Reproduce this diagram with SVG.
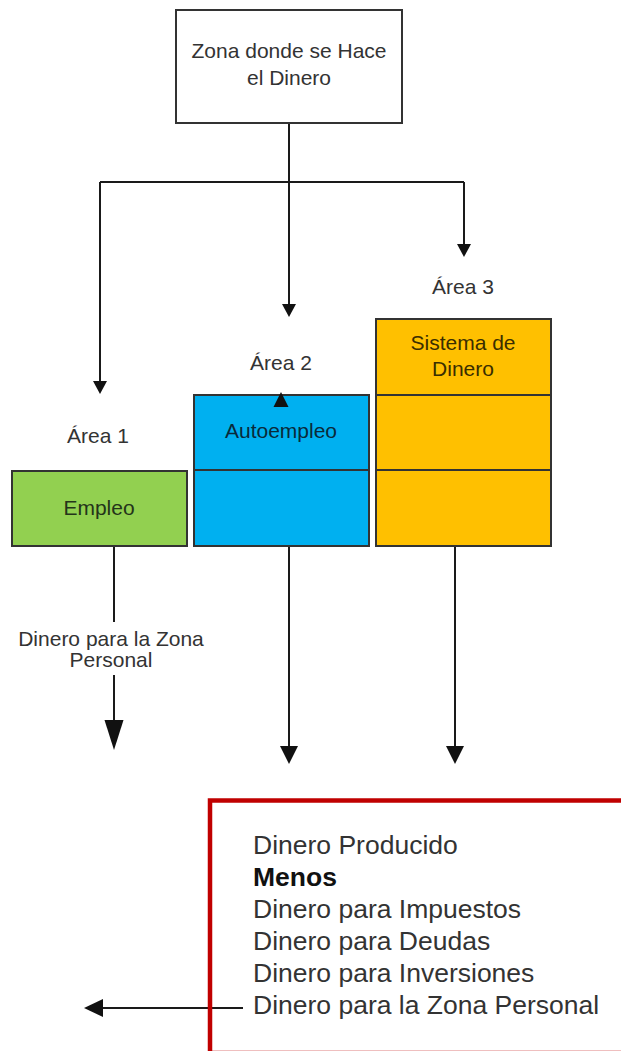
<svg xmlns="http://www.w3.org/2000/svg" width="621" height="1051" viewBox="0 0 621 1051">
<style>
text{font-family:"Liberation Sans",Arial,sans-serif;fill:#333;}
.t21{font-size:21px;text-anchor:middle;}
.box{stroke:#333;stroke-width:2;}
.ln{stroke:#1a1a1a;stroke-width:2;fill:none;}
.ah{fill:#111;stroke:none;}
.big{font-size:26.5px;}
</style>
<rect width="621" height="1051" fill="#fff"/>
<g id="connectors">
<path class="ln" d="M289 123V182M100 182H464M100 182V382M289 182V305M464 182V245"/>
<polygon class="ah" points="93,381 107,381 100,394"/>
<polygon class="ah" points="282,304 296,304 289,317"/>
<polygon class="ah" points="457,244 471,244 464,257"/>
<path class="ln" d="M114 546V622M114 675V722M289 546V748M455 546V748M243 1008H100"/>
<polygon class="ah" points="104.5,720 123.5,720 114,750"/>
<polygon class="ah" points="280,746 298,746 289,764"/>
<polygon class="ah" points="446,746 464,746 455,764"/>
<polygon class="ah" points="103,999 103,1017 84,1008"/>
</g>
<g id="node-top">
<rect class="box" x="176" y="10" width="226" height="113" fill="#fff"/>
<text class="t21" x="289" y="58">Zona donde se Hace</text>
<text class="t21" x="289" y="85">el Dinero</text>
</g>
<g id="node-area3">
<text class="t21" x="463" y="294">Área 3</text>
<rect class="box" x="376" y="319" width="175" height="227" fill="#ffc000"/>
<path class="box" d="M376 395H551M376 470H551"/>
<text class="t21" x="463" y="350" style="fill:#3a2e00">Sistema de</text>
<text class="t21" x="463" y="376" style="fill:#3a2e00">Dinero</text>
</g>
<g id="node-area2">
<text class="t21" x="281" y="370">Área 2</text>
<rect class="box" x="194" y="395" width="175" height="151" fill="#00b0f0"/>
<path class="box" d="M194 470H369"/>
<polygon class="ah" points="273.5,407 288.5,407 281,392"/>
<text class="t21" x="281" y="438" style="fill:#0a2a3a">Autoempleo</text>
</g>
<g id="node-area1">
<text class="t21" x="98" y="443">Área 1</text>
<rect class="box" x="12" y="471" width="175" height="75" fill="#92d050"/>
<text class="t21" x="99" y="515" style="fill:#24341a">Empleo</text>
</g>
<g id="label-personal">
<text class="t21" x="111" y="646">Dinero para la Zona</text>
<text class="t21" x="111" y="667">Personal</text>
</g>
<g id="node-result">
<path d="M210 1051V800.5H621" fill="none" stroke="#c00000" stroke-width="4.5"/>
<line x1="210" y1="1050.5" x2="621" y2="1050.5" stroke="#c00000" stroke-opacity="0.25" stroke-width="1"/>
<text class="big" x="253" y="854">Dinero Producido</text>
<text class="big" x="253" y="886" style="font-weight:bold;fill:#111">Menos</text>
<text class="big" x="253" y="918">Dinero para Impuestos</text>
<text class="big" x="253" y="950">Dinero para Deudas</text>
<text class="big" x="253" y="982">Dinero para Inversiones</text>
<text class="big" x="253" y="1014">Dinero para la Zona Personal</text>
</g>
</svg>
